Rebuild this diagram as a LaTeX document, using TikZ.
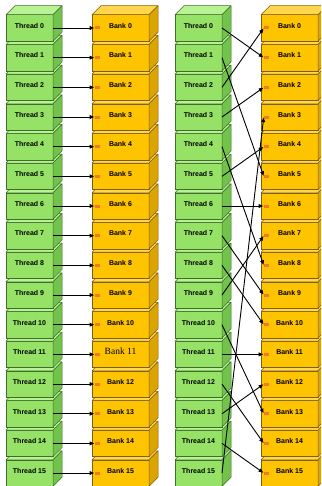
\documentclass[tikz,border=0pt]{standalone}
\usepackage{fontspec}
\setmainfont{Liberation Sans}
\newfontfamily\serifb{Liberation Serif}
\usetikzlibrary{arrows.meta}
\definecolor{thrfront}{HTML}{96E266}
\definecolor{thrtop}{HTML}{B8F294}
\definecolor{thrside}{HTML}{72C34C}
\definecolor{thrline}{HTML}{3F6E2A}
\definecolor{bnkfront}{HTML}{FFC400}
\definecolor{bnktop}{HTML}{FFD64C}
\definecolor{bnkside}{HTML}{DCA400}
\definecolor{bnkline}{HTML}{7D5F10}
\definecolor{markc}{HTML}{F0782A}
\newcommand\cubefaces[4]{%
  \filldraw[fill=#2, draw=#4, line width=0.5pt, line join=round]
    (#1.north west) -- ++(9,-9) -- ([shift={(9,-9)}]#1.north east) -- (#1.north east) -- cycle;
  \filldraw[fill=#3, draw=#4, line width=0.5pt, line join=round]
    (#1.north east) -- ++(9,-9) -- ([shift={(9,-9)}]#1.south east) -- (#1.south east) -- cycle;}
\begin{document}
\begin{tikzpicture}[x=1pt,y=-1pt,
  box/.style={rectangle, line width=0.5pt, inner sep=0pt, outer sep=0pt,
    minimum height=26.5pt, font=\fontsize{7}{8}\selectfont\bfseries,
    text height=5pt, text depth=4.4pt},
  thr/.style={box, draw=thrline, fill=thrfront, minimum width=47pt},
  bnk/.style={box, draw=bnkline, fill=bnkfront, minimum width=57pt},
  mrk/.style={rectangle, fill=markc, minimum width=5.5pt, minimum height=3pt, inner sep=0pt, outer sep=0pt},
  arr/.style={line width=0.9pt, -{Triangle[length=4.5pt,width=3.8pt]}, shorten >=0.6pt}]
\useasboundingbox (0,0) rectangle (321,486);
\clip (0,0) rectangle (321,486);
\fill[white] (0,0) rectangle (321,486);
\foreach \k in {15,14,...,0}{
  \pgfmathsetmacro\yy{28+29.67*\k}
  \node[thr] (t\k) at (29.5,\yy) {Thread \k};
  \cubefaces{t\k}{thrtop}{thrside}{thrline}
  \node[bnk] (b\k) at (120.5,\yy) {\ifnum\k=11 \serifb\mdseries\fontsize{9.5}{10}\selectfont Bank 11\else Bank \k\fi};
  \cubefaces{b\k}{bnktop}{bnkside}{bnkline}
  \node[thr] (u\k) at (198.5,\yy) {Thread \k};
  \cubefaces{u\k}{thrtop}{thrside}{thrline}
  \node[bnk] (c\k) at (289.5,\yy) {Bank \k};
  \cubefaces{c\k}{bnktop}{bnkside}{bnkline}
}
\foreach \k in {0,...,15}{
  \node[mrk] (mb\k) at ([xshift=5.5pt]b\k.west) {};
  \node[mrk] (mc\k) at ([xshift=5.5pt]c\k.west) {};
  \draw[arr] (t\k.east) -- (mb\k.west);
}
\foreach \i/\j in {0/1,1/5,2/0,3/2,4/8,5/4,6/6,7/9,8/10,9/7,10/13,11/11,12/14,13/12,14/15,15/3}
  \draw[arr] (u\i.east) -- (mc\j.west);
\end{tikzpicture}
\end{document}
